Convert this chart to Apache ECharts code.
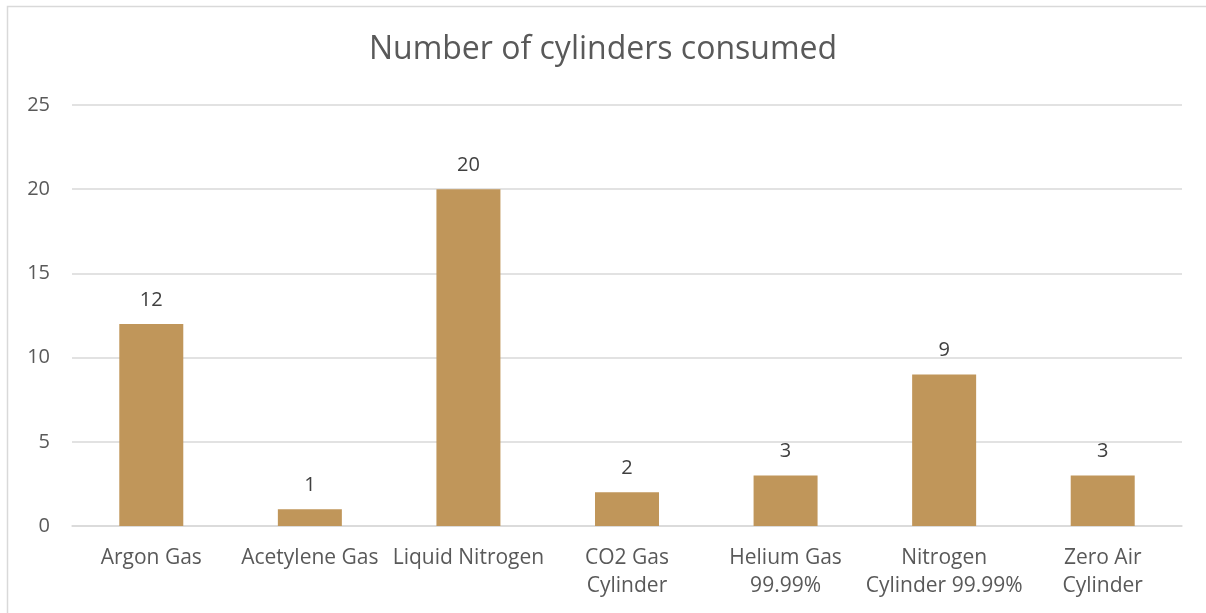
<!DOCTYPE html>
<html><head><meta charset="utf-8">
<script src="https://cdn.jsdelivr.net/npm/echarts@6/dist/echarts.min.js"></script>
<style>html,body{margin:0;padding:0;background:#fff}#c{width:1206px;height:613px}</style>
</head><body><div id="c"></div>
<script>
const categories = ["Argon Gas", "Acetylene Gas", "Liquid Nitrogen", "CO2 Gas\nCylinder", "Helium Gas\n99.99%", "Nitrogen\nCylinder 99.99%", "Zero Air\nCylinder"];
const values = [12, 1, 20, 2, 3, 9, 3];
const yTicks = { min: 0, max: 25, interval: 5 };
const titleText = "Number of cylinders consumed";

const chart = echarts.init(document.getElementById('c'));
const font = "'Open Sans', sans-serif";
chart.setOption({
  animation: false,
  graphic: [{ type: 'rect', shape: { x: 7.5, y: 6.5, width: 1210, height: 620 }, style: { fill: 'none', stroke: '#d9d9d9', lineWidth: 1.5 } }],
  title: { text: titleText, left: 'center', top: 29, textStyle: { fontFamily: font, fontSize: 32, fontWeight: 'normal', color: '#595959' } },
  grid: { left: 72, right: 24, top: 105, bottom: 87 },
  xAxis: {
    type: 'category', data: categories,
    axisLine: { lineStyle: { color: '#d9d9d9', width: 1.5 } },
    axisTick: { show: false },
    axisLabel: { interval: 0, color: '#595959', fontFamily: font, fontSize: 21, lineHeight: 28, margin: 18 }
  },
  yAxis: {
    type: 'value', min: yTicks.min, max: yTicks.max, interval: yTicks.interval,
    axisLine: { show: false }, axisTick: { show: false },
    splitLine: { lineStyle: { color: '#d9d9d9', width: 1.5 } },
    axisLabel: { color: '#595959', fontFamily: font, fontSize: 20, margin: 22 }
  },
  series: [{
    type: 'bar', data: values, barWidth: 64,
    itemStyle: { color: '#C0965A' },
    label: { show: true, position: 'top', distance: 14, color: '#404040', fontFamily: font, fontSize: 20 }
  }]
});
</script></body></html>
